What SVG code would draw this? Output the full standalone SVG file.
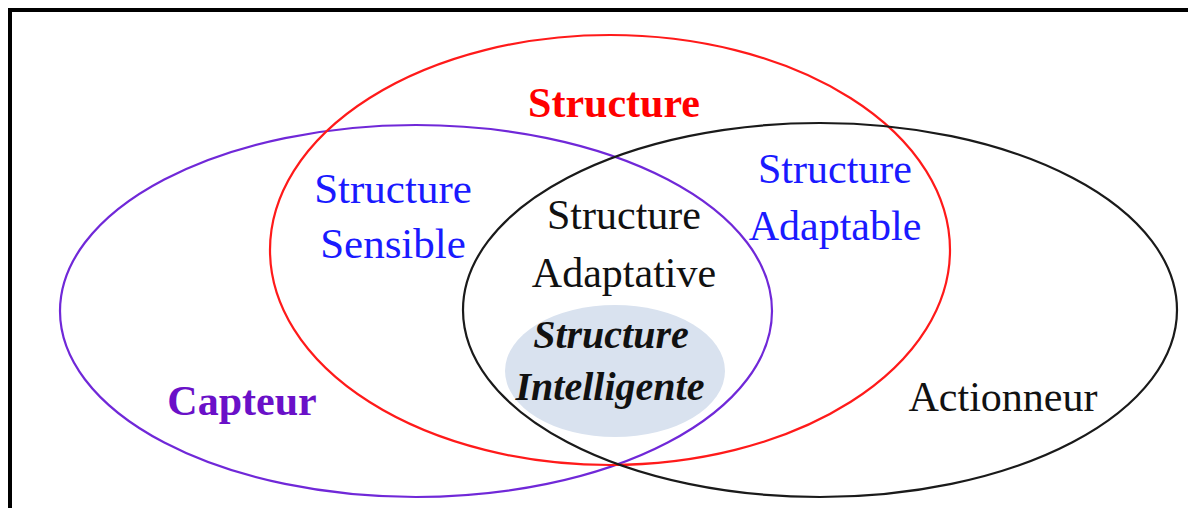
<svg xmlns="http://www.w3.org/2000/svg" width="1188" height="508" viewBox="0 0 1188 508">
  <style>
    .set { fill: none; stroke-width: 2.2; }
    .lbl { font-family: "Liberation Serif", "Times New Roman", serif; text-anchor: middle; }
    .blue { fill: #1a1aff; }
    .blk { fill: #111111; }
    .bold { font-weight: bold; }
    .smart { font-weight: bold; font-style: italic; }
  </style>
  <rect width="1188" height="508" fill="#ffffff"/>
  <!-- outer frame, open to the right and bottom edges -->
  <path d="M10 510 V10 H1192" fill="none" stroke="#000000" stroke-width="4"/>

  <g id="connectors"/>

  <g id="capteur">
    <ellipse class="set" cx="416" cy="311" rx="356" ry="186" stroke="#7028d8"/>
    <text class="lbl bold" x="242" y="415" style="font-size:42px" fill="#6a10c8">Capteur</text>
  </g>

  <g id="structure">
    <ellipse class="set" cx="610" cy="250" rx="340" ry="215" stroke="#ff1a1a"/>
    <text class="lbl bold" x="614" y="117" style="font-size:42px" fill="#ff0000">Structure</text>
  </g>

  <g id="actionneur">
    <ellipse class="set" cx="820" cy="310" rx="357" ry="187" stroke="#1a1a1a"/>
    <text class="lbl blk" x="1003" y="411" style="font-size:42px">Actionneur</text>
  </g>

  <g id="structure-sensible">
    <text class="lbl blue" x="393" y="203" style="font-size:43px">Structure</text>
    <text class="lbl blue" x="393" y="258" style="font-size:43px">Sensible</text>
  </g>

  <g id="structure-adaptable">
    <text class="lbl blue" x="835" y="183" style="font-size:42px">Structure</text>
    <text class="lbl blue" x="835" y="240" style="font-size:42px">Adaptable</text>
  </g>

  <g id="structure-adaptative">
    <text class="lbl blk" x="624" y="229" style="font-size:42px">Structure</text>
    <text class="lbl blk" x="624" y="287" style="font-size:42px">Adaptative</text>
  </g>

  <g id="structure-intelligente">
    <ellipse cx="615" cy="371" rx="110" ry="66" fill="#d9e2ef"/>
    <text class="lbl blk smart" x="611" y="348" style="font-size:40px">Structure</text>
    <text class="lbl blk smart" x="610" y="400" style="font-size:40px">Intelligente</text>
  </g>
</svg>
